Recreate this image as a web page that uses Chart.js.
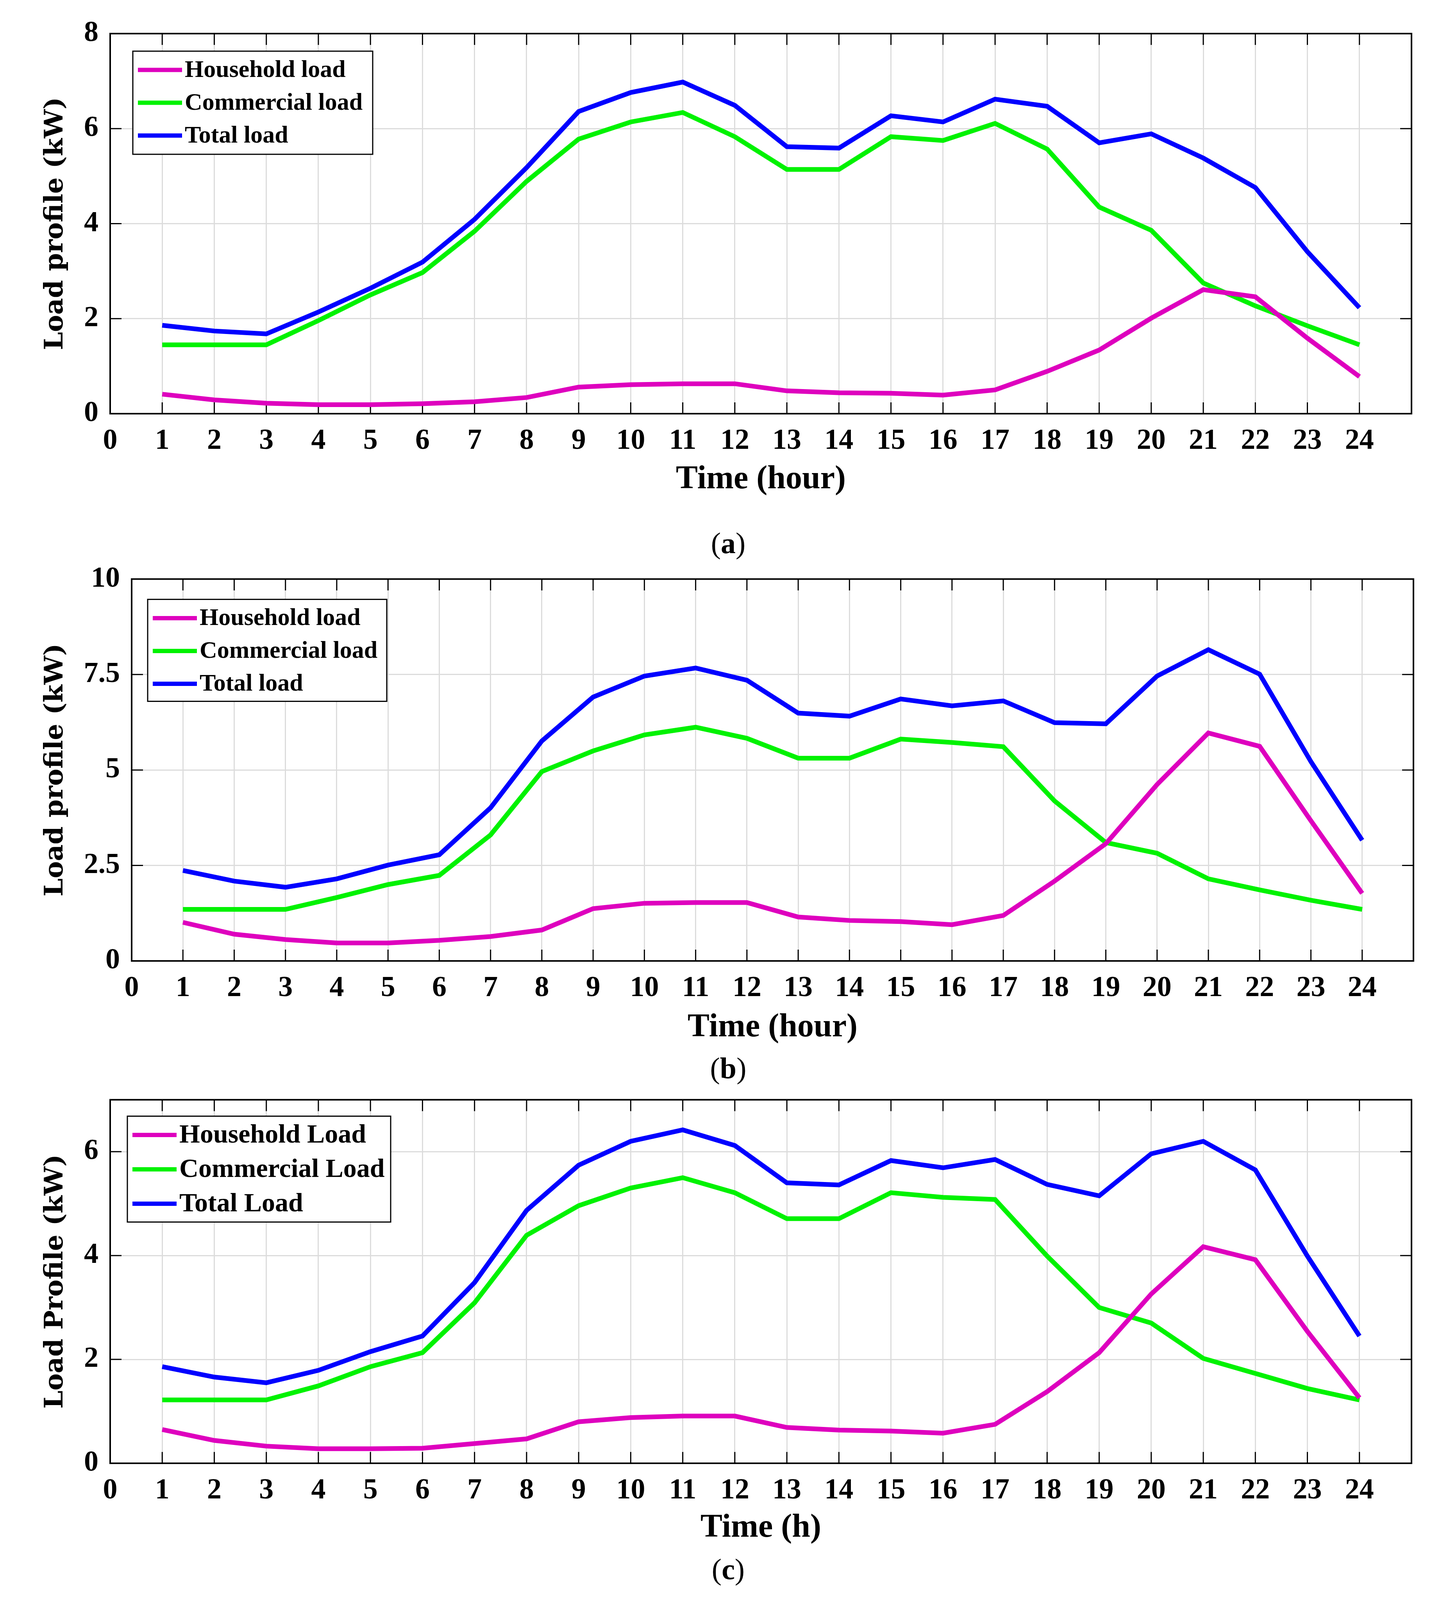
<!DOCTYPE html>
<html>
<head>
<meta charset="utf-8">
<script src="https://cdn.jsdelivr.net/npm/chart.js@4.4.1/dist/chart.umd.min.js"></script>
<style>
  html, body { margin: 0; padding: 0; background: #fff; }
  body { width: 3709px; position: relative; overflow: hidden; }
  canvas { position: absolute; left: 0; }
  .cap { position: absolute; width: 200px; margin-left: -100px; text-align: center;
         font-family: "Liberation Serif", serif; font-size: 76px; line-height: 1; color: #000; }
</style>
</head>
<body>
<canvas id="chartA"></canvas>
<canvas id="chartB"></canvas>
<canvas id="chartC"></canvas>
<div class="cap" id="capA">(<b>a</b>)</div>
<div class="cap" id="capB">(<b>b</b>)</div>
<div class="cap" id="capC">(<b>c</b>)</div>
<script>
// hours of the day
var hours = [1,2,3,4,5,6,7,8,9,10,11,12,13,14,15,16,17,18,19,20,21,22,23,24];
var xTicks = [0,1,2,3,4,5,6,7,8,9,10,11,12,13,14,15,16,17,18,19,20,21,22,23,24];

// (a)
var householdA  = [0.41,0.29,0.22,0.19,0.19,0.21,0.25,0.34,0.56,0.61,0.63,0.63,0.48,0.44,0.43,0.39,0.50,0.89,1.34,2.01,2.61,2.46,1.59,0.78];
var commercialA = [1.45,1.45,1.45,1.96,2.50,2.97,3.84,4.89,5.78,6.14,6.34,5.83,5.14,5.14,5.83,5.75,6.11,5.57,4.35,3.86,2.75,2.27,1.85,1.45];
var totalA      = [1.86,1.74,1.68,2.14,2.64,3.19,4.09,5.18,6.36,6.76,6.98,6.49,5.62,5.59,6.27,6.14,6.62,6.47,5.70,5.89,5.38,4.76,3.41,2.23];
var yTicksA = [0,2,4,6,8];

// (b)
var householdB  = [1.01,0.70,0.56,0.47,0.47,0.54,0.64,0.81,1.37,1.51,1.53,1.53,1.15,1.06,1.03,0.95,1.19,2.09,3.07,4.62,5.97,5.62,3.67,1.77];
var commercialB = [1.35,1.35,1.35,1.66,2.00,2.24,3.30,4.96,5.50,5.92,6.12,5.83,5.31,5.31,5.81,5.72,5.61,4.19,3.10,2.82,2.15,1.86,1.59,1.35];
var totalB      = [2.37,2.09,1.93,2.15,2.51,2.78,4.01,5.76,6.91,7.46,7.67,7.35,6.49,6.41,6.86,6.68,6.81,6.24,6.21,7.46,8.15,7.51,5.22,3.16];
var yTicksB = [0,2.5,5,7.5,10];

// (c)
var householdC  = [0.65,0.44,0.33,0.28,0.28,0.29,0.38,0.47,0.80,0.88,0.91,0.91,0.69,0.64,0.62,0.58,0.75,1.38,2.13,3.26,4.17,3.92,2.54,1.26];
var commercialC = [1.22,1.22,1.22,1.49,1.86,2.13,3.09,4.39,4.96,5.30,5.50,5.21,4.71,4.71,5.21,5.12,5.08,3.99,3.00,2.70,2.02,1.73,1.44,1.22];
var totalC      = [1.86,1.66,1.55,1.79,2.15,2.45,3.48,4.87,5.74,6.20,6.42,6.12,5.40,5.36,5.83,5.69,5.85,5.37,5.15,5.96,6.20,5.65,3.99,2.45];
var yTicksC = [0,2,4,6];

var MAGENTA = "#DE00BE";
var GREEN = "#00F200";
var BLUE = "#0000FF";

// the visible page is shorter than the 4304 px figure, squeeze vertically so all three panels show
var ys = Math.min(1, window.innerHeight / 4304);
function Y(v) { return Math.round(v * ys); }
document.body.style.height = Y(4304) + "px";

//box, inner ticks like matlab
var boxPlugin = {
    id: "matlabBox",
    beforeDatasetsDraw: function(chart) {
        var ctx = chart.ctx, a = chart.chartArea;
        var x = chart.scales.x, y = chart.scales.y;
        var t = 29;
        ctx.save();
        ctx.strokeStyle = "#000";
        ctx.lineWidth = 3;
        ctx.beginPath();
        x.ticks.forEach(function(tk) {
            var px = x.getPixelForValue(tk.value);
            ctx.moveTo(px, a.bottom); ctx.lineTo(px, a.bottom - t);
            ctx.moveTo(px, a.top); ctx.lineTo(px, a.top + t);
        });
        y.ticks.forEach(function(tk) {
            var py = y.getPixelForValue(tk.value);
            ctx.moveTo(a.left, py); ctx.lineTo(a.left + t, py);
            ctx.moveTo(a.right, py); ctx.lineTo(a.right - t, py);
        });
        ctx.stroke();
        ctx.lineWidth = 4;
        ctx.strokeRect(a.left, a.top, a.right - a.left, a.bottom - a.top);
        ctx.restore();
    }
};

//legend inside the axes
var legendPlugin = {
    id: "boxLegend",
    afterDraw: function(chart, args, o) {
        var ctx = chart.ctx, a = chart.chartArea;
        var bx = a.left + o.dx, by = a.top + o.dy;
        ctx.save();
        ctx.fillStyle = "#fff";
        ctx.fillRect(bx, by, o.w, o.h);
        ctx.strokeStyle = "#000";
        ctx.lineWidth = 3;
        ctx.strokeRect(bx, by, o.w, o.h);
        ctx.font = "bold " + o.size + "px 'Liberation Serif', serif";
        ctx.textBaseline = "middle";
        chart.data.datasets.forEach(function(ds, i) {
            var ry = by + o.first + i * o.row;
            ctx.strokeStyle = ds.borderColor;
            ctx.lineWidth = 11;
            ctx.beginPath();
            ctx.moveTo(bx + 13, ry);
            ctx.lineTo(bx + 126, ry);
            ctx.stroke();
            ctx.fillStyle = "#000";
            ctx.fillText(ds.label, bx + 133, ry + 2);
        });
        ctx.restore();
    }
};

function makeChart(id, cfg) {
    var ctx = document.getElementById(id);
    ctx.width = 3709;
    ctx.height = Y(cfg.canvasH);
    ctx.style.top = Y(cfg.canvasTop) + "px";
    var tickFont = { family: "'Liberation Serif', serif", size: 74, weight: "bold" };
    return new Chart(ctx, {
        type: "line",
        data: {
            labels: hours,
            datasets: [
                { label: cfg.names[0], data: cfg.series[0], borderColor: MAGENTA, backgroundColor: MAGENTA },
                { label: cfg.names[1], data: cfg.series[1], borderColor: GREEN, backgroundColor: GREEN },
                { label: cfg.names[2], data: cfg.series[2], borderColor: BLUE, backgroundColor: BLUE }
            ]
        },
        options: {
            responsive: false,
            animation: false,
            devicePixelRatio: 1,
            elements: {
                line: { borderWidth: 12, tension: 0, borderJoinStyle: "miter" },
                point: { radius: 0 }
            },
            layout: { padding: { left: 0, right: cfg.padRight, top: Y(cfg.padTop), bottom: 0 } },
            plugins: {
                legend: { display: false },
                tooltip: { enabled: false },
                boxLegend: {
                    dx: cfg.legend.dx, dy: Y(cfg.legend.dy), w: cfg.legend.w, h: Y(cfg.legend.h),
                    size: cfg.legend.size, first: Y(cfg.legend.first), row: Y(cfg.legend.row)
                }
            },
            scales: {
                x: {
                    type: "linear",
                    min: 0,
                    max: 25,
                    afterBuildTicks: function(s) { s.ticks = xTicks.map(function(v) { return { value: v }; }); },
                    afterFit: function(s) { s.height = Y(cfg.canvasH) - Y(cfg.areaBottom); },
                    ticks: { autoSkip: false, maxRotation: 0, padding: 26, color: "#000", font: tickFont },
                    grid: { color: "#dcdcdc", lineWidth: 3, drawTicks: false },
                    border: { display: false },
                    title: {
                        display: true,
                        text: cfg.xTitle,
                        color: "#000",
                        font: { family: "'Liberation Serif', serif", size: 84, weight: "bold" },
                        padding: { top: 0, bottom: Y(cfg.canvasH) - Y(cfg.xTitleY) - 50 }
                    }
                },
                y: {
                    min: 0,
                    max: cfg.yMax,
                    afterBuildTicks: function(s) { s.ticks = cfg.yTicks.map(function(v) { return { value: v }; }); },
                    afterFit: function(s) { s.width = cfg.yWidth; },
                    ticks: { padding: 30, color: "#000", font: tickFont },
                    grid: { color: "#dcdcdc", lineWidth: 3, drawTicks: false },
                    border: { display: false },
                    title: {
                        display: true,
                        text: cfg.yTitle,
                        color: "#000",
                        font: { family: "'DejaVu Serif', serif", size: 66, weight: "bold" },
                        padding: { top: 103, bottom: 0 }
                    }
                }
            }
        },
        plugins: [boxPlugin, legendPlugin]
    });
}

// positions below are in the 4304 px tall figure, canvas-relative
var chartA = makeChart("chartA", {
    names: ["Household load", "Commercial load", "Total load"],
    series: [householdA, commercialA, totalA],
    yMax: 8, yTicks: yTicksA,
    xTitle: "Time (hour)", yTitle: "Load profile (kW)",
    canvasTop: 0, canvasH: 1400, padTop: 90, areaBottom: 1113, xTitleY: 1291,
    padRight: 96, yWidth: 282,
    legend: { dx: 58, dy: 47, w: 614, h: 277, size: 62, first: 50, row: 88 }
});

var chartB = makeChart("chartB", {
    names: ["Household load", "Commercial load", "Total load"],
    series: [householdB, commercialB, totalB],
    yMax: 10, yTicks: yTicksB,
    xTitle: "Time (hour)", yTitle: "Load profile (kW)",
    canvasTop: 1480, canvasH: 1360, padTop: 74, areaBottom: 1105, xTitleY: 1286,
    padRight: 91, yWidth: 337,
    legend: { dx: 41, dy: 55, w: 612, h: 274, size: 62, first: 50, row: 88 }
});

var chartC = makeChart("chartC", {
    names: ["Household Load", "Commercial Load", "Total Load"],
    series: [householdC, commercialC, totalC],
    yMax: 7, yTicks: yTicksC,
    xTitle: "Time (h)", yTitle: "Load Profile (kW)",
    canvasTop: 2880, canvasH: 1424, padTop: 61, areaBottom: 1056, xTitleY: 1232,
    padRight: 96, yWidth: 282,
    legend: { dx: 44, dy: 44, w: 674, h: 285, size: 68, first: 50, row: 92 }
});

//sub-figure captions
[["capA", 1461], ["capB", 2873], ["capC", 4221]].forEach(function(c) {
    var el = document.getElementById(c[0]);
    el.style.left = "1864px";
    el.style.top = (Y(c[1]) - 38) + "px";
});
</script>
</body>
</html>
